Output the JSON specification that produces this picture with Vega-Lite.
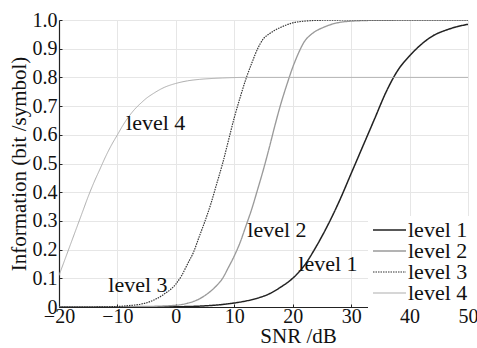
{
  "$schema": "https://vega.github.io/schema/vega-lite/v6.json",
  "width": 409,
  "height": 287,
  "autosize": {"type": "none"},
  "padding": {"left": 59, "top": 20, "right": 9, "bottom": 41},
  "background": "white",
  "config": {
    "font": "'Liberation Serif', 'DejaVu Serif', serif",
    "view": {"stroke": null},
    "axis": {
      "grid": true,
      "gridColor": "#e6e6e6",
      "gridWidth": 1,
      "domainColor": "#222",
      "domainWidth": 1.2,
      "tickColor": "#222",
      "tickSize": -3,
      "labelFlush": false,
      "labelOverlap": false,
      "labelFont": "'Liberation Serif', 'DejaVu Serif', serif",
      "labelFontSize": 20,
      "labelColor": "#111",
      "titleFont": "'Liberation Serif', 'DejaVu Serif', serif",
      "titleFontSize": 21,
      "titleFontWeight": "normal",
      "titleColor": "#111"
    },
    "legend": {"labelFont": "'Liberation Serif', 'DejaVu Serif', serif"}
  },
  "datasets": {
    "curves": [
      {"snr": -20, "info": 0.0, "series": "level 1"},
      {"snr": 0, "info": 0.001, "series": "level 1"},
      {"snr": 5, "info": 0.004, "series": "level 1"},
      {"snr": 10, "info": 0.014, "series": "level 1"},
      {"snr": 12, "info": 0.021, "series": "level 1"},
      {"snr": 14, "info": 0.031, "series": "level 1"},
      {"snr": 16, "info": 0.046, "series": "level 1"},
      {"snr": 18, "info": 0.07, "series": "level 1"},
      {"snr": 20, "info": 0.1, "series": "level 1"},
      {"snr": 22, "info": 0.145, "series": "level 1"},
      {"snr": 24, "info": 0.21, "series": "level 1"},
      {"snr": 26, "info": 0.285, "series": "level 1"},
      {"snr": 28, "info": 0.37, "series": "level 1"},
      {"snr": 30, "info": 0.465, "series": "level 1"},
      {"snr": 32, "info": 0.56, "series": "level 1"},
      {"snr": 34, "info": 0.655, "series": "level 1"},
      {"snr": 36, "info": 0.75, "series": "level 1"},
      {"snr": 38, "info": 0.825, "series": "level 1"},
      {"snr": 40, "info": 0.875, "series": "level 1"},
      {"snr": 42, "info": 0.915, "series": "level 1"},
      {"snr": 44, "info": 0.945, "series": "level 1"},
      {"snr": 46, "info": 0.963, "series": "level 1"},
      {"snr": 48, "info": 0.976, "series": "level 1"},
      {"snr": 50, "info": 0.985, "series": "level 1"},

      {"snr": -20, "info": 0.0, "series": "level 2"},
      {"snr": -5, "info": 0.002, "series": "level 2"},
      {"snr": 0, "info": 0.006, "series": "level 2"},
      {"snr": 2, "info": 0.013, "series": "level 2"},
      {"snr": 4, "info": 0.028, "series": "level 2"},
      {"snr": 6, "info": 0.056, "series": "level 2"},
      {"snr": 7, "info": 0.075, "series": "level 2"},
      {"snr": 8, "info": 0.1, "series": "level 2"},
      {"snr": 9, "info": 0.138, "series": "level 2"},
      {"snr": 10, "info": 0.178, "series": "level 2"},
      {"snr": 11, "info": 0.225, "series": "level 2"},
      {"snr": 12, "info": 0.283, "series": "level 2"},
      {"snr": 13, "info": 0.342, "series": "level 2"},
      {"snr": 14, "info": 0.41, "series": "level 2"},
      {"snr": 15, "info": 0.48, "series": "level 2"},
      {"snr": 16, "info": 0.556, "series": "level 2"},
      {"snr": 17, "info": 0.636, "series": "level 2"},
      {"snr": 18, "info": 0.71, "series": "level 2"},
      {"snr": 19, "info": 0.775, "series": "level 2"},
      {"snr": 20, "info": 0.835, "series": "level 2"},
      {"snr": 21, "info": 0.885, "series": "level 2"},
      {"snr": 22, "info": 0.925, "series": "level 2"},
      {"snr": 23, "info": 0.947, "series": "level 2"},
      {"snr": 24, "info": 0.962, "series": "level 2"},
      {"snr": 25, "info": 0.972, "series": "level 2"},
      {"snr": 27, "info": 0.987, "series": "level 2"},
      {"snr": 30, "info": 0.996, "series": "level 2"},
      {"snr": 35, "info": 0.999, "series": "level 2"},
      {"snr": 50, "info": 1.0, "series": "level 2"},

      {"snr": -20, "info": 0.0, "series": "level 3"},
      {"snr": -15, "info": 0.0, "series": "level 3"},
      {"snr": -10, "info": 0.002, "series": "level 3"},
      {"snr": -8, "info": 0.005, "series": "level 3"},
      {"snr": -6, "info": 0.01, "series": "level 3"},
      {"snr": -4, "info": 0.022, "series": "level 3"},
      {"snr": -2, "info": 0.045, "series": "level 3"},
      {"snr": 0, "info": 0.08, "series": "level 3"},
      {"snr": 1, "info": 0.11, "series": "level 3"},
      {"snr": 2, "info": 0.15, "series": "level 3"},
      {"snr": 3, "info": 0.19, "series": "level 3"},
      {"snr": 4, "info": 0.245, "series": "level 3"},
      {"snr": 5, "info": 0.3, "series": "level 3"},
      {"snr": 6, "info": 0.36, "series": "level 3"},
      {"snr": 7, "info": 0.43, "series": "level 3"},
      {"snr": 8, "info": 0.5, "series": "level 3"},
      {"snr": 9, "info": 0.58, "series": "level 3"},
      {"snr": 10, "info": 0.66, "series": "level 3"},
      {"snr": 11, "info": 0.73, "series": "level 3"},
      {"snr": 12, "info": 0.795, "series": "level 3"},
      {"snr": 13, "info": 0.85, "series": "level 3"},
      {"snr": 14, "info": 0.9, "series": "level 3"},
      {"snr": 15, "info": 0.935, "series": "level 3"},
      {"snr": 16, "info": 0.952, "series": "level 3"},
      {"snr": 17, "info": 0.965, "series": "level 3"},
      {"snr": 18, "info": 0.975, "series": "level 3"},
      {"snr": 20, "info": 0.99, "series": "level 3"},
      {"snr": 22, "info": 0.996, "series": "level 3"},
      {"snr": 25, "info": 0.999, "series": "level 3"},
      {"snr": 30, "info": 1.0, "series": "level 3"},
      {"snr": 50, "info": 1.0, "series": "level 3"},

      {"snr": -20, "info": 0.11, "series": "level 4"},
      {"snr": -19, "info": 0.165, "series": "level 4"},
      {"snr": -18, "info": 0.22, "series": "level 4"},
      {"snr": -17, "info": 0.275, "series": "level 4"},
      {"snr": -16, "info": 0.33, "series": "level 4"},
      {"snr": -15, "info": 0.385, "series": "level 4"},
      {"snr": -14, "info": 0.435, "series": "level 4"},
      {"snr": -13, "info": 0.48, "series": "level 4"},
      {"snr": -12, "info": 0.525, "series": "level 4"},
      {"snr": -11, "info": 0.565, "series": "level 4"},
      {"snr": -10, "info": 0.6, "series": "level 4"},
      {"snr": -9, "info": 0.635, "series": "level 4"},
      {"snr": -8, "info": 0.665, "series": "level 4"},
      {"snr": -7, "info": 0.69, "series": "level 4"},
      {"snr": -6, "info": 0.71, "series": "level 4"},
      {"snr": -5, "info": 0.728, "series": "level 4"},
      {"snr": -4, "info": 0.742, "series": "level 4"},
      {"snr": -2, "info": 0.765, "series": "level 4"},
      {"snr": 0, "info": 0.779, "series": "level 4"},
      {"snr": 2, "info": 0.788, "series": "level 4"},
      {"snr": 4, "info": 0.793, "series": "level 4"},
      {"snr": 6, "info": 0.796, "series": "level 4"},
      {"snr": 8, "info": 0.798, "series": "level 4"},
      {"snr": 12, "info": 0.8, "series": "level 4"},
      {"snr": 50, "info": 0.8, "series": "level 4"}
    ],
    "labels": [
      {"snr": -8.53, "info": 0.618, "text": "level 4"},
      {"snr": -11.56, "info": 0.053, "text": "level 3"},
      {"snr": 12.23, "info": 0.245, "text": "level 2"},
      {"snr": 20.96, "info": 0.127, "text": "level 1"}
    ]
  },
  "encoding": {
    "x": {
      "field": "snr", "type": "quantitative",
      "scale": {"domain": [-20, 50], "nice": false, "zero": false},
      "axis": {"values": [-20, -10, 0, 10, 20, 30, 40, 50], "title": "SNR /dB", "titleX": 239, "titleAlign": "center", "titlePadding": -1, "labelPadding": 2}
    },
    "y": {
      "field": "info", "type": "quantitative",
      "scale": {"domain": [0, 1], "nice": false},
      "axis": {
        "values": [0, 0.1, 0.2, 0.3, 0.4, 0.5, 0.6, 0.7, 0.8, 0.9, 1.0],
        "labelExpr": "datum.value == 0 ? '0' : format(datum.value, '.1f')",
        "title": "Information (bit /symbol)",
        "titlePadding": 3,
        "labelPadding": 5
      }
    }
  },
  "layer": [
    {
      "data": {"name": "curves"},
      "mark": {"type": "line", "interpolate": "monotone", "clip": true},
      "encoding": {
        "color": {
          "field": "series", "type": "nominal",
          "scale": {"domain": ["level 1", "level 2", "level 3", "level 4"], "range": ["#222222", "#9a9a9a", "#333333", "#adadad"]},
          "legend": {
            "title": null,
            "orient": "none",
            "legendX": 309,
            "legendY": 196,
            "padding": 4,
            "fillColor": "white",
            "labelFontSize": 22,
            "labelColor": "#111",
            "labelOffset": 1,
            "clipHeight": 20,
            "rowPadding": -2.5,
            "symbolType": "stroke",
            "symbolSize": 1089,
            "symbolStrokeWidth": 1.5
          }
        },
        "strokeDash": {
          "field": "series", "type": "nominal",
          "scale": {"domain": ["level 1", "level 2", "level 3", "level 4"], "range": [[1, 0], [1, 0], [1.5, 1], [1, 0]]},
          "legend": null
        },
        "strokeWidth": {
          "field": "series", "type": "nominal",
          "scale": {"domain": ["level 1", "level 2", "level 3", "level 4"], "range": [1.5, 1, 1.6, 2.6]},
          "legend": null
        }
      }
    },
    {
      "data": {"name": "labels"},
      "mark": {"type": "text", "align": "left", "baseline": "alphabetic", "font": "'Liberation Serif', 'DejaVu Serif', serif", "fontSize": 22, "color": "#111"},
      "encoding": {
        "text": {"field": "text"}
      }
    }
  ]
}
